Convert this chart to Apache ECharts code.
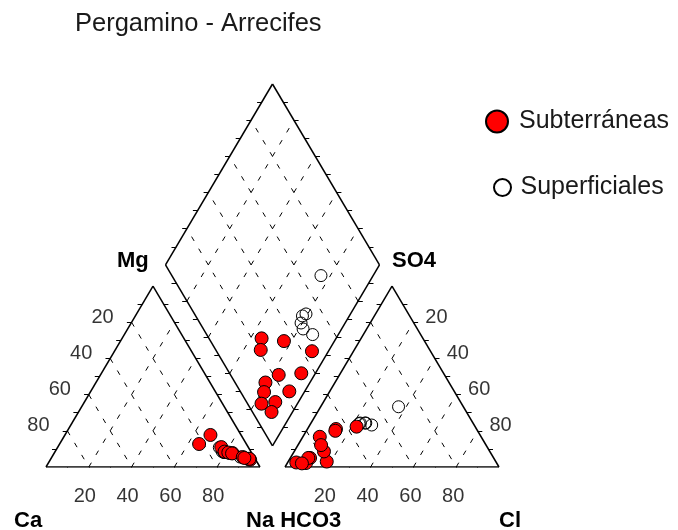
<!DOCTYPE html>
<html><head><meta charset="utf-8">
<script src="https://cdn.jsdelivr.net/npm/echarts@6/dist/echarts.min.js"></script>
<style>html,body{margin:0;padding:0;background:#fff}#c{width:678px;height:530px}</style>
</head><body><div id="c"></div>
<script>
// ---------- data (meq % ) ----------
const chartTitle = 'Pergamino - Arrecifes';
const seriesNames = ['Subterráneas', 'Superficiales'];
const tickValues = [20, 40, 60, 80];
const cornerLabels = ['Ca', 'Na HCO3', 'Cl', 'Mg', 'SO4'];

// Subterráneas (groundwater)
const subCa   = [22.1, 12.6, 14.3, 3.2, 9.0, 2.6, 12.3, 10.8, 2.7, 9.3, 5.3, 4.8];
const subMg   = [12.7, 11.0, 17.7, 4.5, 7.7, 4.0, 8.5, 8.0, 4.5, 7.5, 5.5, 5.0];
const subNa   = [65.2, 76.4, 68.0, 92.3, 83.3, 93.4, 79.2, 81.2, 92.8, 83.2, 89.2, 90.2];
const subHCO3 = [75.4, 65.7, 79.0, 55.4, 77.5, 66.5, 85.8, 89.1, 77.1, 93.5, 86.6, 91.1];
const subSO4  = [16.7, 21.0, 3.0, 22.3, 8.6, 20.0, 5.0, 2.2, 12.1, 2.5, 5.0, 2.0];
const subCl   = [7.9, 13.3, 18.0, 22.3, 13.9, 13.5, 9.2, 8.7, 10.8, 4.0, 8.4, 6.9];

// Superficiales (surface water)
const supCa   = [13.6, 13.4, 12.8, 12.6, 10.5, 6.5];
const supMg   = [10.8, 8.5, 8.0, 8.0, 7.5, 5.5];
const supNa   = [75.6, 78.1, 79.2, 79.4, 82.0, 88.0];
const supHCO3 = [30.3, 50.1, 47.9, 52.7, 53.4, 50.5];
const supSO4  = [33.3, 24.3, 23.2, 24.3, 24.0, 24.3];
const supCl   = [36.4, 25.6, 28.9, 23.0, 22.6, 25.2];

// ---------- Piper geometry ----------
const L = 100, G = 11.7, H = Math.sqrt(3) / 2;
function cat(ca, mg, na) { const s = ca + mg + na; return [L * na / s + L * mg / s / 2, L * mg / s * H]; }
function ani(hco3, so4, cl) { const s = hco3 + so4 + cl; return [L + G + L * cl / s + L * so4 / s / 2, L * so4 / s * H]; }
function dia(caMg, so4Cl) { return [L + G / 2 + (so4Cl - caMg) / 2 * L / 100, G * H + (so4Cl + caMg) * H * L / 100]; }

function piperPoints(Ca, Mg, Na, HCO3, SO4, Cl) {
  const pts = [];
  for (let i = 0; i < Ca.length; i++) {
    const cs = Ca[i] + Mg[i] + Na[i], as = HCO3[i] + SO4[i] + Cl[i];
    pts.push(cat(Ca[i], Mg[i], Na[i]));
    pts.push(ani(HCO3[i], SO4[i], Cl[i]));
    pts.push(dia(100 * (Ca[i] + Mg[i]) / cs, 100 * (SO4[i] + Cl[i]) / as));
  }
  return pts;
}

const triC = [cat(100, 0, 0), cat(0, 0, 100), cat(0, 100, 0)];
const triA = [ani(100, 0, 0), ani(0, 0, 100), ani(0, 100, 0)];
const diam = [dia(0, 0), dia(0, 100), dia(100, 100), dia(100, 0)];

const edgeSegs = [], gridSegs = [], tickSegs = [];
[triC, triA, diam].forEach(p => { for (let i = 0; i < p.length; i++) edgeSegs.push([p[i], p[(i + 1) % p.length]]); });
tickValues.forEach(v => {
  gridSegs.push([cat(100 - v, 0, v), cat(0, 100 - v, v)]);
  gridSegs.push([cat(v, 100 - v, 0), cat(v, 0, 100 - v)]);
  gridSegs.push([ani(100 - v, 0, v), ani(0, 100 - v, v)]);
  gridSegs.push([ani(v, 100 - v, 0), ani(v, 0, 100 - v)]);
  gridSegs.push([dia(v, 0), dia(v, 100)]);
  gridSegs.push([dia(0, v), dia(100, v)]);
});
// ticks every 10 %: base ticks point down, side ticks horizontal outward
const TL = 2.2;
for (let k = 10; k < 100; k += 10) {
  let p;
  p = cat(100 - k, 0, k); tickSegs.push([p, [p[0], p[1] - TL]]);
  p = ani(100 - k, 0, k); tickSegs.push([p, [p[0], p[1] - TL]]);
  p = cat(k, 100 - k, 0); tickSegs.push([p, [p[0] - TL, p[1]]]);
  p = cat(0, 100 - k, k); tickSegs.push([p, [p[0] + TL, p[1]]]);
  p = ani(k, 100 - k, 0); tickSegs.push([p, [p[0] - TL, p[1]]]);
  p = ani(0, 100 - k, k); tickSegs.push([p, [p[0] + TL, p[1]]]);
  p = dia(k, 0); tickSegs.push([p, [p[0] - TL, p[1]]]);
  p = dia(0, k); tickSegs.push([p, [p[0] + TL, p[1]]]);
  p = dia(k, 100); tickSegs.push([p, [p[0] + TL, p[1]]]);
  p = dia(100, k); tickSegs.push([p, [p[0] - TL, p[1]]]);
}

const labelData = [];
tickValues.forEach(v => {
  labelData.push({ value: cat(100 - v, 0, v), label: { formatter: String(v), offset: [-4, 29] } });
  labelData.push({ value: cat(v, 100 - v, 0), label: { formatter: String(v), offset: [-29, -5] } });
  labelData.push({ value: ani(100 - v, 0, v), label: { formatter: String(v), offset: [-3, 29] } });
  labelData.push({ value: ani(0, 100 - v, v), label: { formatter: String(v), offset: [23, -5] } });
});

const FONT = '"Liberation Sans", Arial, sans-serif';
const chart = echarts.init(document.getElementById('c'), null, { renderer: 'canvas' });
const segSeries = (data, style, z) => ({
  type: 'lines', coordinateSystem: 'cartesian2d', silent: true, z: z,
  data: data.map(s => ({ coords: s })), lineStyle: Object.assign({ color: '#000', opacity: 1, curveness: 0 }, style)
});
chart.setOption({
  animation: false,
  backgroundColor: '#fff',
  title: { text: chartTitle, left: 75, top: 11, padding: 0,
    textStyle: { fontFamily: FONT, fontSize: 25.5, fontWeight: 'normal', color: '#1a1a1a' } },
  legend: [
    { data: [seriesNames[0]], left: 485, top: 109, padding: 0, itemWidth: 34, itemHeight: 22, selectedMode: false,
      textStyle: { fontFamily: FONT, fontSize: 25, color: '#1a1a1a' } },
    { data: [seriesNames[1]], left: 493, top: 175, padding: 0, itemWidth: 26, itemHeight: 17, selectedMode: false,
      textStyle: { fontFamily: FONT, fontSize: 25, color: '#1a1a1a' } }
  ],
  grid: { left: 46, top: 84, width: 453, height: 383 },
  xAxis: { type: 'value', min: 0, max: 2 * L + G, show: false },
  yAxis: { type: 'value', min: 0, max: (2 * L + G) * H, show: false },
  graphic: [
    { type: 'text', left: 14, top: 510, style: { text: cornerLabels[0], font: 'bold 22px ' + FONT, fill: '#000' } },
    { type: 'text', left: 246, top: 510, style: { text: cornerLabels[1], font: 'bold 22px ' + FONT, fill: '#000' } },
    { type: 'text', left: 499, top: 510, style: { text: cornerLabels[2], font: 'bold 22px ' + FONT, fill: '#000' } },
    { type: 'text', left: 117, top: 250, style: { text: cornerLabels[3], font: 'bold 22px ' + FONT, fill: '#000' } },
    { type: 'text', left: 392, top: 250, style: { text: cornerLabels[4], font: 'bold 22px ' + FONT, fill: '#000' } }
  ],
  series: [
    segSeries(gridSegs, { width: 1, type: [5, 9] }, 1),
    segSeries(tickSegs, { width: 1 }, 2),
    segSeries(edgeSegs, { width: 1.5 }, 3),
    { type: 'scatter', name: seriesNames[1], z: 4, symbol: 'circle', symbolSize: 12,
      data: piperPoints(supCa, supMg, supNa, supHCO3, supSO4, supCl),
      itemStyle: { color: 'rgba(255,255,255,0)', borderColor: '#000', borderWidth: 1, opacity: 1 }, emphasis: { disabled: true } },
    { type: 'scatter', name: seriesNames[0], z: 5, symbol: 'circle', symbolSize: 13,
      data: piperPoints(subCa, subMg, subNa, subHCO3, subSO4, subCl),
      itemStyle: { color: '#ff0000', borderColor: '#000', borderWidth: 1, opacity: 1 }, emphasis: { disabled: true } },
    { type: 'scatter', name: 'ticks', z: 6, symbol: 'circle', symbolSize: 1, silent: true,
      itemStyle: { color: 'rgba(0,0,0,0)' },
      label: { show: true, position: 'inside', fontFamily: FONT, fontSize: 20, color: '#000' },
      data: labelData }
  ]
});
</script></body></html>
